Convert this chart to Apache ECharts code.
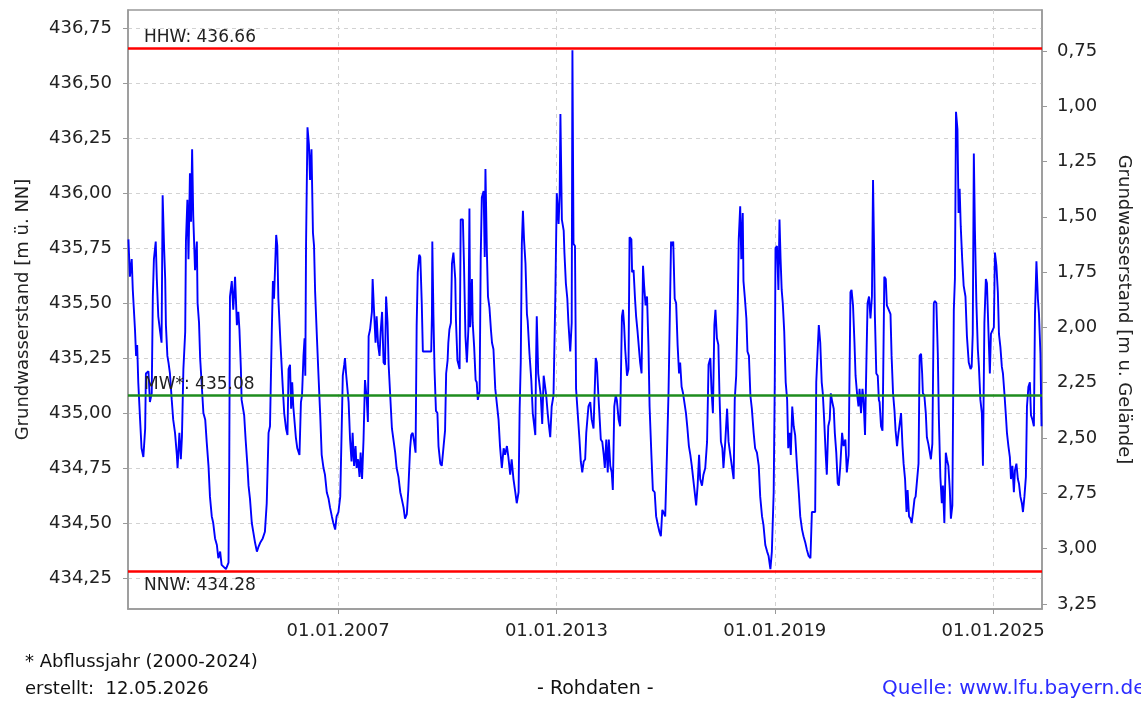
<!DOCTYPE html>
<html>
<head>
<meta charset="utf-8">
<script src="https://cdn.jsdelivr.net/npm/echarts@6/dist/echarts.min.js"></script>
<style>
  html, body { margin: 0; padding: 0; background: #fff; }
  #grafico { width: 1141px; height: 702px; }
</style>
</head>
<body>
<div id="grafico"></div>
<script>
// Grundwasserstand (Rohdaten) - Zeit als Dezimaljahr, Wert in m ü. NN
const zeit = [
  2001.24, 2001.28, 2001.33, 2001.36, 2001.42, 2001.45, 2001.48, 2001.51, 2001.56, 2001.60,
  2001.65, 2001.70, 2001.72, 2001.79, 2001.83, 2001.88, 2001.91, 2001.94, 2001.99, 2002.02,
  2002.06, 2002.11, 2002.15, 2002.18, 2002.22, 2002.25, 2002.27, 2002.31, 2002.34, 2002.38,
  2002.43, 2002.47, 2002.52, 2002.57, 2002.59, 2002.64, 2002.68, 2002.71, 2002.75, 2002.80,
  2002.82, 2002.86, 2002.89, 2002.93, 2002.96, 2002.99, 2003.02, 2003.07, 2003.12, 2003.14,
  2003.18, 2003.21, 2003.25, 2003.30, 2003.35, 2003.39, 2003.44, 2003.48, 2003.53, 2003.57,
  2003.62, 2003.67, 2003.71, 2003.76, 2003.80, 2003.85, 2003.92, 2003.99, 2004.01, 2004.03,
  2004.08, 2004.12, 2004.17, 2004.22, 2004.26, 2004.29, 2004.33, 2004.35, 2004.42, 2004.46,
  2004.51, 2004.54, 2004.58, 2004.63, 2004.67, 2004.72, 2004.77, 2004.81, 2004.86, 2004.93,
  2004.99, 2005.04, 2005.09,
  2005.13, 2005.18, 2005.21, 2005.24, 2005.30, 2005.33, 2005.36, 2005.42, 2005.48, 2005.52,
  2005.57, 2005.61, 2005.64, 2005.68, 2005.71, 2005.74, 2005.77, 2005.84, 2005.88, 2005.94,
  2005.98, 2006.01, 2006.05, 2006.08, 2006.10, 2006.12, 2006.16, 2006.20, 2006.23, 2006.27,
  2006.31, 2006.34, 2006.37, 2006.42, 2006.46, 2006.51, 2006.55, 2006.60, 2006.64, 2006.69,
  2006.74, 2006.78, 2006.83, 2006.87, 2006.92, 2006.96, 2007.01, 2007.06, 2007.10, 2007.13,
  2007.17, 2007.19, 2007.22, 2007.26, 2007.29, 2007.33, 2007.37, 2007.40, 2007.44, 2007.48,
  2007.51, 2007.55, 2007.59, 2007.62, 2007.66, 2007.70, 2007.74, 2007.79, 2007.82, 2007.84,
  2007.88, 2007.93, 2007.95, 2007.99, 2008.03, 2008.06, 2008.10, 2008.14, 2008.17, 2008.21,
  2008.25, 2008.29, 2008.32, 2008.36, 2008.39, 2008.43, 2008.48, 2008.52, 2008.57, 2008.61,
  2008.66, 2008.71, 2008.75, 2008.80, 2008.84, 2008.89, 2008.93, 2008.98, 2009.01, 2009.05,
  2009.09, 2009.13, 2009.16, 2009.19, 2009.23,
  2009.26, 2009.30, 2009.33, 2009.56, 2009.58, 2009.59, 2009.62, 2009.65, 2009.69, 2009.73,
  2009.76, 2009.81, 2009.85, 2009.90, 2009.94, 2009.97, 2010.01, 2010.03, 2010.06, 2010.10,
  2010.13, 2010.17, 2010.22, 2010.24, 2010.28, 2010.34, 2010.37, 2010.43, 2010.46, 2010.50,
  2010.54, 2010.58, 2010.61, 2010.63, 2010.68, 2010.70, 2010.74, 2010.78, 2010.81, 2010.84,
  2010.89, 2010.92, 2010.95, 2011.00, 2011.03, 2011.05, 2011.09, 2011.12, 2011.16, 2011.20,
  2011.23, 2011.27, 2011.32, 2011.36, 2011.41, 2011.45, 2011.50, 2011.55, 2011.59, 2011.64,
  2011.68, 2011.73, 2011.77, 2011.82, 2011.87, 2011.91, 2011.96, 2011.99, 2012.02, 2012.05,
  2012.08, 2012.11, 2012.15, 2012.19, 2012.21, 2012.26, 2012.31, 2012.35, 2012.39, 2012.42,
  2012.44, 2012.46, 2012.50, 2012.54, 2012.57, 2012.61, 2012.65, 2012.68, 2012.72, 2012.76,
  2012.79, 2012.83, 2012.87, 2012.92, 2012.97, 2013.01, 2013.06, 2013.09, 2013.11, 2013.15,
  2013.20, 2013.22, 2013.26, 2013.30, 2013.33, 2013.38, 2013.42, 2013.44, 2013.47, 2013.51,
  2013.54,
  2013.58, 2013.63, 2013.67, 2013.71, 2013.75, 2013.79, 2013.82, 2013.88, 2013.93, 2013.97,
  2014.02, 2014.05, 2014.08, 2014.11, 2014.15, 2014.19, 2014.22, 2014.26, 2014.30, 2014.33,
  2014.37, 2014.41, 2014.44, 2014.48, 2014.52, 2014.55, 2014.59, 2014.63, 2014.66, 2014.71,
  2014.75, 2014.80, 2014.83, 2014.86, 2014.89, 2014.94, 2014.98, 2015.01, 2015.06, 2015.08,
  2015.12, 2015.16, 2015.19, 2015.23, 2015.27, 2015.30, 2015.34, 2015.38, 2015.41, 2015.45,
  2015.49, 2015.53, 2015.56, 2015.61, 2015.65, 2015.70, 2015.74, 2015.79, 2015.83, 2015.87,
  2015.91, 2015.94, 2015.99, 2016.04, 2016.08, 2016.11, 2016.15, 2016.17, 2016.21, 2016.25,
  2016.29, 2016.33, 2016.37, 2016.40, 2016.44, 2016.48, 2016.52, 2016.56, 2016.60, 2016.64,
  2016.68, 2016.72, 2016.76, 2016.80, 2016.84, 2016.88, 2016.92, 2016.95, 2017.00, 2017.04,
  2017.09, 2017.14, 2017.18, 2017.23, 2017.26, 2017.30, 2017.34, 2017.37, 2017.41, 2017.45,
  2017.48, 2017.52, 2017.56, 2017.59, 2017.64, 2017.69,
  2017.73, 2017.78, 2017.82, 2017.87, 2017.90, 2017.94, 2017.98, 2018.01, 2018.05, 2018.08,
  2018.12, 2018.14, 2018.18, 2018.22, 2018.25, 2018.29, 2018.33, 2018.37, 2018.42, 2018.46,
  2018.51, 2018.56, 2018.60, 2018.65, 2018.69, 2018.74, 2018.79, 2018.83, 2018.88, 2018.92,
  2018.97, 2019.00, 2019.02, 2019.06, 2019.10, 2019.13, 2019.16, 2019.19, 2019.22, 2019.26,
  2019.30, 2019.34, 2019.37, 2019.41, 2019.44, 2019.48, 2019.52, 2019.56, 2019.61, 2019.66,
  2019.70, 2019.75, 2019.79, 2019.84, 2019.88, 2019.93, 2019.98, 2020.02, 2020.07, 2020.11,
  2020.14, 2020.18, 2020.21, 2020.25, 2020.29, 2020.32, 2020.36, 2020.40, 2020.43, 2020.47,
  2020.51, 2020.54, 2020.58, 2020.62, 2020.65, 2020.69, 2020.73, 2020.76, 2020.80, 2020.85,
  2020.89, 2020.94, 2020.98, 2021.03, 2021.08, 2021.11, 2021.15, 2021.19, 2021.22, 2021.26,
  2021.30, 2021.33, 2021.37, 2021.41, 2021.44, 2021.48, 2021.52, 2021.55, 2021.59, 2021.63,
  2021.67, 2021.70, 2021.73, 2021.75, 2021.79, 2021.83, 2021.86, 2021.88, 2021.92, 2021.96,
  2021.97, 2022.01, 2022.05, 2022.08, 2022.13, 2022.18, 2022.21, 2022.25, 2022.29, 2022.32,
  2022.36, 2022.40, 2022.43, 2022.47, 2022.51, 2022.54, 2022.58, 2022.62, 2022.65, 2022.69,
  2022.73, 2022.76, 2022.80, 2022.84, 2022.87, 2022.91, 2022.95, 2022.98, 2023.02, 2023.05,
  2023.07, 2023.11, 2023.15, 2023.18, 2023.22, 2023.26, 2023.29, 2023.33, 2023.37, 2023.40,
  2023.44, 2023.48, 2023.51, 2023.55, 2023.59, 2023.62, 2023.66, 2023.70, 2023.73, 2023.77,
  2023.81, 2023.84, 2023.88, 2023.92, 2023.95, 2023.98, 2024.02, 2024.05, 2024.08, 2024.11,
  2024.15, 2024.19, 2024.24, 2024.28, 2024.33, 2024.38, 2024.41, 2024.44, 2024.47, 2024.50,
  2024.54, 2024.58, 2024.61, 2024.65, 2024.69, 2024.72, 2024.76, 2024.80, 2024.83, 2024.87,
  2024.91, 2024.94, 2024.98, 2025.02, 2025.05, 2025.09, 2025.13, 2025.16, 2025.20, 2025.24,
  2025.27, 2025.31, 2025.35, 2025.38, 2025.42, 2025.46, 2025.49, 2025.53, 2025.57, 2025.60,
  2025.64, 2025.68, 2025.71, 2025.75, 2025.79, 2025.82, 2025.86, 2025.90, 2025.93, 2025.97,
  2026.01, 2026.04, 2026.08, 2026.12, 2026.15, 2026.19, 2026.23, 2026.26, 2026.30, 2026.33
];

const wasserstand = [
  435.79, 435.62, 435.70, 435.56, 435.38, 435.26, 435.31, 435.14, 434.97, 434.84,
  434.80, 434.93, 435.18, 435.19, 435.05, 435.09, 435.53, 435.70, 435.78, 435.61,
  435.44, 435.37, 435.32, 435.99, 435.75, 435.61, 435.40, 435.26, 435.23, 435.18,
  435.06, 434.97, 434.91, 434.81, 434.75, 434.91, 434.79, 434.89, 435.20, 435.37,
  435.78, 435.97, 435.70, 436.09, 435.87, 436.20, 435.90, 435.65, 435.78, 435.50,
  435.41, 435.25, 435.14, 435.00, 434.97, 434.87, 434.76, 434.62, 434.53, 434.50,
  434.43, 434.40, 434.34, 434.37, 434.31, 434.31, 434.29, 434.32, 434.76, 435.53,
  435.60, 435.47, 435.62, 435.40, 435.46, 435.38, 435.20, 435.06, 434.99, 434.88,
  434.76, 434.67, 434.61, 434.50, 434.46, 434.41, 434.37, 434.39, 434.41, 434.43,
  434.46, 434.59, 434.91,
  434.94, 435.38, 435.60, 435.52, 435.81, 435.76, 435.52, 435.31, 435.12, 435.00,
  434.93, 434.90, 435.20, 435.22, 435.02, 435.14, 435.03, 434.89, 434.84, 434.81,
  435.05, 435.08, 435.26, 435.34, 435.17, 435.76, 436.30, 436.22, 436.06, 436.20,
  435.82, 435.76, 435.55, 435.34, 435.18, 434.99, 434.81, 434.75, 434.72, 434.64,
  434.61, 434.57, 434.53, 434.50, 434.47, 434.53, 434.55, 434.62, 434.93, 435.17,
  435.22, 435.25, 435.18, 435.18, 435.05, 434.88, 434.78, 434.91, 434.76, 434.85,
  434.75, 434.79, 434.71, 434.82, 434.70, 434.88, 435.15, 435.06, 434.96, 435.35,
  435.38, 435.46, 435.61, 435.46, 435.32, 435.44, 435.31, 435.26, 435.37, 435.46,
  435.23, 435.22, 435.53, 435.41, 435.22, 435.09, 434.93, 434.93, 434.82, 434.75,
  434.71, 434.64, 434.61, 434.57, 434.52, 434.54, 434.65, 434.84, 434.90, 434.91,
  434.87, 434.82, 435.40, 435.64, 435.72,
  435.71, 435.50, 435.28, 435.28, 435.45, 435.78, 435.45, 435.20, 435.01, 435.00,
  434.85, 434.77, 434.76, 434.85, 434.92, 435.18, 435.24, 435.32, 435.38, 435.41,
  435.68, 435.73, 435.61, 435.42, 435.24, 435.20, 435.88, 435.88, 435.68, 435.35,
  435.23, 435.38, 435.93, 435.39, 435.61, 435.41, 435.30, 435.15, 435.14, 435.06,
  435.10, 435.71, 435.98, 436.01, 435.71, 436.11, 435.73, 435.53, 435.48, 435.38,
  435.32, 435.29, 435.11, 435.11, 434.97, 434.85, 434.75, 434.84, 434.81, 434.85,
  434.80, 434.72, 434.79, 434.70, 434.64, 434.59, 434.64, 435.02, 435.23, 435.77,
  435.92, 435.79, 435.68, 435.45, 435.42, 435.27, 435.15, 435.00, 435.00, 434.90,
  435.23, 435.44, 435.18, 435.18, 435.08, 434.95, 435.17, 435.17, 435.08, 435.00,
  434.95, 434.89, 435.03, 435.08, 435.53, 436.00, 435.86, 436.00, 436.36, 435.88,
  435.83, 435.73, 435.59, 435.52, 435.41, 435.28, 435.41, 436.65, 435.77, 435.76,
  435.11,
  435.11, 434.89, 434.78, 434.73, 434.78, 434.79, 434.91, 435.03, 435.05, 434.97,
  434.93, 435.09, 435.25, 435.23, 435.09, 434.97, 434.88, 434.87, 434.81, 434.75,
  434.88, 434.73, 434.88, 434.76, 434.73, 434.65, 435.03, 435.08, 435.06, 434.97,
  434.94, 435.44, 435.47, 435.40, 435.29, 435.17, 435.20, 435.80, 435.79, 435.64,
  435.65, 435.52, 435.44, 435.37, 435.29, 435.23, 435.18, 435.67, 435.58, 435.49,
  435.53, 435.30, 435.03, 434.81, 434.65, 434.64, 434.53, 434.49, 434.46, 434.44,
  434.56, 434.55, 434.53, 434.83, 435.09, 435.38, 435.78, 435.76, 435.78, 435.52,
  435.50, 435.31, 435.18, 435.23, 435.12, 435.09, 435.09, 435.00, 434.93, 434.85,
  434.81, 434.76, 434.70, 434.64, 434.58, 434.67, 434.81, 434.70, 434.67, 434.72,
  434.75, 434.87, 435.22, 435.25, 435.11, 435.00, 435.40, 435.47, 435.34, 435.31,
  435.09, 434.87, 434.84, 434.75, 434.87, 435.02,
  434.87, 434.87, 434.76, 434.70, 435.06, 435.17, 435.46, 435.79, 435.94, 435.70,
  435.91, 435.60, 435.52, 435.43, 435.28, 435.26, 435.08, 435.02, 434.91, 434.84,
  434.82, 434.76, 434.62, 434.53, 434.49, 434.40, 434.37, 434.35, 434.29, 434.37,
  434.64, 435.14, 435.75, 435.76, 435.56, 435.88, 435.70, 435.56, 435.50, 435.37,
  435.14, 435.06, 434.84, 434.91, 434.81, 435.03, 434.94, 434.90, 434.76, 434.64,
  434.53, 434.47, 434.44, 434.41, 434.38, 434.35, 434.34, 434.55, 434.55, 434.55,
  435.14, 435.29, 435.40, 435.32, 435.14, 435.09, 434.96, 434.81, 434.72, 434.94,
  434.97, 435.09, 435.05, 435.02, 434.91, 434.82, 434.68, 434.67, 434.76, 434.91,
  434.85, 434.88, 434.73, 434.81, 435.55, 435.56, 435.49, 435.32, 435.17, 435.09,
  435.03, 435.11, 435.00, 435.11, 435.06, 434.90, 435.25, 435.50, 435.53, 435.43,
  435.53, 436.06, 435.73, 435.45, 435.18, 435.17, 435.06, 435.05, 434.94, 434.92,
  435.03, 435.62, 435.61, 435.49, 435.47, 435.45, 435.26, 435.09, 435.01, 434.92,
  434.85, 434.91, 434.91, 435.00, 434.85, 434.77, 434.70, 434.55, 434.65, 434.53,
  434.52, 434.50, 434.55, 434.61, 434.62, 434.62, 434.77, 435.26, 435.27, 435.18,
  435.09, 435.08, 435.00, 434.89, 434.86, 434.82, 434.79, 434.86, 435.50, 435.51,
  435.50, 435.27, 434.97, 434.71, 434.59, 434.67, 434.50, 434.82, 434.79, 434.76,
  434.65, 434.52, 434.58, 435.47, 435.61, 436.37, 436.29, 435.91, 436.02, 435.85,
  435.70, 435.58, 435.53, 435.35, 435.23, 435.20, 435.21, 435.36, 436.18, 435.83,
  435.50, 435.29, 435.21, 435.06, 435.00, 434.76, 435.41, 435.61, 435.59, 435.38,
  435.18, 435.36, 435.36, 435.39, 435.73, 435.67, 435.55, 435.36, 435.30, 435.21,
  435.18, 435.09, 434.99, 434.91, 434.85, 434.80, 434.70, 434.76, 434.64, 434.74,
  434.77, 434.70, 434.68, 434.62, 434.59, 434.55, 434.62, 434.71, 435.03, 435.12,
  435.14, 434.99, 434.97, 434.94, 435.45, 435.69, 435.52, 435.45, 435.27, 434.94
];

// Kennwerte
const kennwerte = [
  { name: "HHW", wert: 436.66 },
  { name: "MW*", wert: 435.08 },
  { name: "NNW", wert: 434.28 },
];

// Achsen-Beschriftungen
const tickNN = [434.25, 434.5, 434.75, 435.0, 435.25, 435.5, 435.75, 436.0, 436.25, 436.5, 436.75];
const tickGelaende = [0.75, 1.0, 1.25, 1.5, 1.75, 2.0, 2.25, 2.5, 2.75, 3.0, 3.25];
const tickJahre = [2007, 2013, 2019, 2025];

// Achsenbereiche
const ymin = 434.109, ymax = 436.833;
const gmin = 0.565, gmax = 3.273; // m u. Gelände, oben -> unten
const xmin = 2001.228, xmax = 2026.343;

const schrift = "DejaVu Sans";
const grau = "#999";
const gitter = { show: true, lineStyle: { color: "#d2d2d2", type: [4, 4], width: 1 } };
const komma = (v) => v.toFixed(2).replace(".", ",");

const chart = echarts.init(document.getElementById("grafico"));

chart.setOption({
  animation: false,
  backgroundColor: "#fff",
  grid: { left: 128, right: 99, top: 10, bottom: 93, show: true, borderColor: grau, borderWidth: 1.5 },
  xAxis: {
    type: "value",
    min: xmin,
    max: xmax,
    axisLine: { show: true, onZero: false, lineStyle: { color: grau, width: 1.5 } },
    axisTick: { show: true, customValues: tickJahre, length: 5, lineStyle: { color: grau } },
    axisLabel: {
      customValues: tickJahre,
      formatter: (v) => "01.01." + Math.round(v),
      color: "#222",
      fontFamily: schrift,
      fontSize: 18,
      margin: 13,
    },
    splitLine: gitter,
  },
  yAxis: [
    {
      type: "value",
      position: "left",
      min: ymin,
      max: ymax,
      name: "Grundwasserstand [m ü. NN]",
      nameLocation: "middle",
      nameGap: 96,
      nameTextStyle: { color: "#222", fontFamily: schrift, fontSize: 18 },
      axisLine: { show: true, lineStyle: { color: grau, width: 1.5 } },
      axisTick: { show: true, customValues: tickNN, length: 5, lineStyle: { color: grau } },
      axisLabel: {
        customValues: tickNN,
        formatter: komma,
        color: "#222",
        fontFamily: schrift,
        fontSize: 18,
        margin: 16,
      },
      splitLine: gitter,
    },
    {
      type: "value",
      position: "right",
      inverse: true,
      min: gmin,
      max: gmax,
      name: "Grundwasserstand [m u. Gelände]",
      nameLocation: "middle",
      nameRotate: -90,
      nameGap: 73,
      nameTextStyle: { color: "#222", fontFamily: schrift, fontSize: 18 },
      axisLine: { show: true, lineStyle: { color: grau, width: 1.5 } },
      axisTick: { show: true, customValues: tickGelaende, length: 5, lineStyle: { color: grau } },
      axisLabel: {
        customValues: tickGelaende,
        formatter: komma,
        color: "#222",
        fontFamily: schrift,
        fontSize: 18,
        margin: 15,
      },
      splitLine: { show: false },
    },
  ],
  series: [
    {
      name: "Grundwasserstand",
      type: "line",
      yAxisIndex: 0,
      showSymbol: false,
      data: zeit.map((j, i) => [j, wasserstand[i]]),
      lineStyle: { color: "#0000ff", width: 1.9 },
      z: 3,
      markLine: {
        silent: true,
        symbol: ["none", "none"],
        z: 4,
        data: kennwerte.map((k) => ({
          name: k.name,
          yAxis: k.wert,
          lineStyle: {
            type: "solid",
            width: 2.5,
            color: k.name === "MW*" ? "#1e8c1e" : "#ff0000",
          },
          label: {
            show: true,
            formatter: `${k.name}: ${k.wert.toFixed(2)}`,
            position: k.name === "NNW" ? "insideStartBottom" : "insideStartTop",
            distance: k.name === "NNW" ? [16, 6] : [16, 2],
            color: "#222",
            fontFamily: schrift,
            fontSize: 17,
          },
        })),
      },
    },
  ],
  graphic: [
    { type: "text", left: 25, top: 653, style: { text: "* Abflussjahr (2000-2024)", font: `18px "${schrift}"`, fill: "#111" } },
    { type: "text", left: 25, top: 680, style: { text: "erstellt:  12.05.2026", font: `18px "${schrift}"`, fill: "#111" } },
    { type: "text", left: 537, top: 680, style: { text: "- Rohdaten -", font: `19px "${schrift}"`, fill: "#111" } },
    { type: "text", left: 882, top: 679, style: { text: "Quelle: www.lfu.bayern.de", font: `20px "${schrift}"`, fill: "#2b2bff" } },
  ],
});
</script>
</body>
</html>
